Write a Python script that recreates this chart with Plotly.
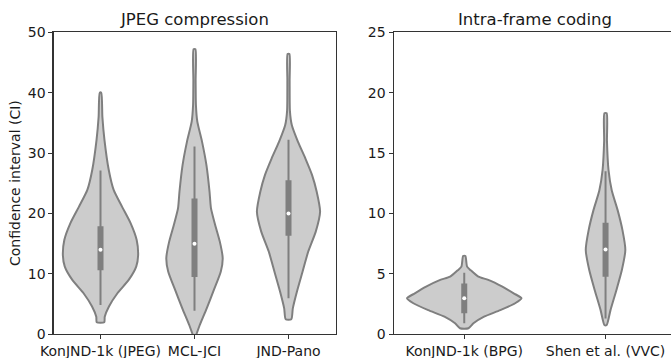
import plotly.graph_objects as go

# ---------------- data ----------------
left_categories = ["KonJND-1k (JPEG)", "MCL-JCI", "JND-Pano"]
right_categories = ["KonJND-1k (BPG)", "Shen et al. (VVC)"]

# estimated density profiles: value levels and relative half-widths
konjnd_jpeg_levels = [2.0, 2.9, 4.6, 6.8, 9.0, 11.2, 13.0, 15.6, 18.4, 21.1, 23.9, 27.2, 32.2, 36.0, 40.0]
konjnd_jpeg_dens = [0.04, 0.045, 0.09, 0.18, 0.30, 0.38, 0.40, 0.385, 0.32, 0.23, 0.14, 0.088, 0.042, 0.02, 0.008]

mcl_jci_levels = [-0.7, 0.0, 1.5, 4.3, 7.1, 10.4, 12.6, 15.3, 18.1, 20.9, 23.6, 28.0, 31.9, 35.2, 38.0, 42.0, 47.2]
mcl_jci_dens = [0.0, 0.02, 0.055, 0.13, 0.20, 0.28, 0.30, 0.27, 0.22, 0.175, 0.16, 0.127, 0.08, 0.03, 0.015, 0.012, 0.01]

jnd_pano_levels = [2.5, 4.3, 7.1, 10.4, 13.7, 17.0, 20.3, 23.6, 26.4, 29.1, 31.9, 34.65, 37.0, 42.0, 46.4]
jnd_pano_dens = [0.03, 0.046, 0.09, 0.15, 0.21, 0.29, 0.336, 0.30, 0.25, 0.18, 0.10, 0.035, 0.015, 0.012, 0.01]

konjnd_bpg_levels = [0.5, 0.91, 1.46, 2.0, 2.57, 2.98, 3.39, 3.94, 4.5, 4.77, 5.3, 5.6, 6.48]
konjnd_bpg_dens = [0.03, 0.065, 0.14, 0.255, 0.36, 0.405, 0.35, 0.27, 0.17, 0.10, 0.046, 0.02, 0.008]

shen_vvc_levels = [0.77, 2.0, 3.67, 5.3, 6.98, 8.6, 10.3, 11.9, 13.6, 16.0, 18.3]
shen_vvc_dens = [0.008, 0.035, 0.077, 0.115, 0.14, 0.12, 0.085, 0.044, 0.021, 0.01, 0.008]

# box statistics: whisker low, q1, median, q3, whisker high
konjnd_jpeg_box = [4.85, 10.6, 14.0, 17.9, 27.1]
mcl_jci_box = [3.9, 9.5, 15.0, 22.5, 31.1]
jnd_pano_box = [5.95, 16.3, 20.0, 25.5, 32.2]
konjnd_bpg_box = [0.91, 1.74, 2.98, 4.2, 5.1]
shen_vvc_box = [1.3, 4.77, 7.03, 9.24, 13.5]

# ---------------- styling ----------------
FILL = "#cccccc"
EDGE = "#7f7f7f"
FONT = "DejaVu Sans"
TXT = "#1a1a1a"
W, H = 671, 358

fig = go.Figure()


def add_violin(pos, levels, dens, box, xref, yref):
    xs = [pos + d for d in dens] + [pos - d for d in reversed(dens)]
    ys = list(levels) + list(reversed(levels))
    xs.append(xs[0])
    ys.append(ys[0])
    fig.add_trace(go.Scatter(x=xs, y=ys, mode="lines", fill="toself", fillcolor=FILL,
                             line=dict(color=EDGE, width=2, shape="spline", smoothing=0.6),
                             xaxis=xref, yaxis=yref, hoverinfo="skip", showlegend=False))
    wlo, q1, med, q3, whi = box
    fig.add_trace(go.Scatter(x=[pos, pos], y=[wlo, whi], mode="lines",
                             line=dict(color=EDGE, width=2),
                             xaxis=xref, yaxis=yref, hoverinfo="skip", showlegend=False))
    fig.add_trace(go.Scatter(x=[pos, pos], y=[q1, q3], mode="lines",
                             line=dict(color=EDGE, width=6),
                             xaxis=xref, yaxis=yref, hoverinfo="skip", showlegend=False))
    fig.add_trace(go.Scatter(x=[pos], y=[med], mode="markers",
                             marker=dict(color="white", size=4, line=dict(width=0)),
                             xaxis=xref, yaxis=yref, hoverinfo="skip", showlegend=False))


left_sets = [
    (konjnd_jpeg_levels, konjnd_jpeg_dens, konjnd_jpeg_box),
    (mcl_jci_levels, mcl_jci_dens, mcl_jci_box),
    (jnd_pano_levels, jnd_pano_dens, jnd_pano_box),
]
right_sets = [
    (konjnd_bpg_levels, konjnd_bpg_dens, konjnd_bpg_box),
    (shen_vvc_levels, shen_vvc_dens, shen_vvc_box),
]
for i, (lv, dn, bx) in enumerate(left_sets):
    add_violin(i, lv, dn, bx, "x", "y")
for i, (lv, dn, bx) in enumerate(right_sets):
    add_violin(i, lv, dn, bx, "x2", "y2")

ydom = [(H - 334.3) / H, (H - 32.3) / H]
axis_common = dict(showgrid=False, zeroline=False, showline=True, linecolor="#333333", linewidth=1.1,
                   ticks="outside", ticklen=4, tickwidth=1, tickcolor="#333333", automargin=False,
                   tickfont=dict(family=FONT, size=14, color=TXT))

fig.update_layout(
    template="none",
    width=W, height=H, margin=dict(l=0, r=0, t=0, b=0, pad=0, autoexpand=False),
    plot_bgcolor="white", paper_bgcolor="white", showlegend=False, hovermode=False,
    xaxis=dict(domain=[53.5 / W, 335.5 / W], range=[-0.5, 2.5], tickvals=[0, 1, 2],
               ticktext=left_categories, mirror=True, anchor="y", **axis_common),
    yaxis=dict(domain=ydom, range=[0, 50], tickvals=[0, 10, 20, 30, 40, 50], mirror=True,
               anchor="x", **axis_common),
    xaxis2=dict(domain=[393.6 / W, 1.0], range=[-0.5, -0.5 + (W - 393.6) / 141.3], tickvals=[0, 1],
                ticktext=right_categories, mirror=True, anchor="y2", **axis_common),
    yaxis2=dict(domain=ydom, range=[0, 25], tickvals=[0, 5, 10, 15, 20, 25], anchor="x2",
                **axis_common),
    annotations=[
        dict(text="JPEG compression", x=194.5 / W, y=(H - 19) / H, xref="paper", yref="paper",
             showarrow=False, xanchor="center", yanchor="middle",
             font=dict(family=FONT, size=16.5, color=TXT)),
        dict(text="Intra-frame coding", x=535 / W, y=(H - 19) / H, xref="paper", yref="paper",
             showarrow=False, xanchor="center", yanchor="middle",
             font=dict(family=FONT, size=16.5, color=TXT)),
        dict(text="Confidence interval (CI)", x=15 / W, y=(H - 183) / H, xref="paper", yref="paper",
             showarrow=False, xanchor="center", yanchor="middle", textangle=-90,
             font=dict(family=FONT, size=14, color=TXT)),
    ],
)

fig.write_html("out.html", config={"displayModeBar": False, "staticPlot": True},
               post_script="document.body.style.margin='0px';document.body.style.overflow='hidden';")
